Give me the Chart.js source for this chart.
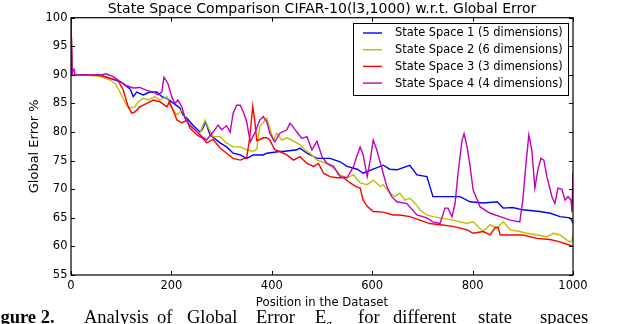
<!DOCTYPE html>
<html>
<head>
<meta charset="utf-8">
<script src="https://cdn.jsdelivr.net/npm/chart.js"></script>
<style>
  html, body { margin: 0; padding: 0; background: #fff; overflow: hidden; }
  #wrap { position: relative; width: 620px; height: 324px; overflow: hidden; }
  #caption span {
    position: absolute; top: 308px; white-space: nowrap;
    font-family: "Liberation Serif", serif; font-size: 18.5px; color: #000; line-height: 1;
  }
  #caption b { font-weight: bold; }
  #caption sub { font-size: 12px; }
</style>
</head>
<body>
<div id="wrap">
  <canvas id="myChart" width="620" height="324"></canvas>
  <div id="caption">
    <span style="left:-16px"><b>Figure 2.</b></span>
    <span style="left:84px">Analysis</span>
    <span style="left:157px">of</span>
    <span style="left:187px">Global</span>
    <span style="left:256px">Error</span>
    <span style="left:315px">E<sub>g</sub></span>
    <span style="left:358px">for</span>
    <span style="left:393px">different</span>
    <span style="left:478px">state</span>
    <span style="left:540px">spaces</span>
  </div>
</div>
<script>
// tick labels
const xTicks = [0, 200, 400, 600, 800, 1000];
const yTicks = [55, 60, 65, 70, 75, 80, 85, 90, 95, 100];

const labels = [
    'State Space 1 (5 dimensions)',
    'State Space 2 (6 dimensions)',
    'State Space 3 (3 dimensions)',
    'State Space 4 (4 dimensions)'
];

// State Space 1 (blue)
const ss1X = [0, 2, 20, 40, 58, 78, 98, 108, 118, 124, 131, 144, 157, 171, 181, 191, 203, 217, 223, 231, 243, 257, 262, 268, 277, 297, 310, 323, 337, 350, 363, 383, 390, 416, 422, 450, 456, 470, 490, 516, 536, 550, 570, 582, 602, 622, 635, 649, 675, 689, 709, 721, 741, 775, 795, 821, 849, 861, 880, 900, 934, 955, 974, 994, 998, 1000];
const ss1Y = [100, 90, 90, 90, 89.9, 89.4, 88.8, 88.2, 87.5, 86.2, 87, 86.5, 87, 87, 86.2, 85.9, 85.1, 84.2, 83, 82.4, 81.2, 80, 80.5, 81.8, 79.5, 78.1, 77.4, 76.3, 76, 75.4, 76, 76, 76.3, 76.6, 76.6, 76.9, 77.2, 76.3, 75.4, 75.4, 74.8, 74, 73.5, 72.8, 73.5, 74.2, 73.5, 73.4, 74.2, 72.5, 72.2, 68.7, 68.7, 68.7, 67.8, 67.6, 67.8, 66.7, 66.8, 66.4, 66.1, 65.8, 65.2, 65, 64.5, 64];

// State Space 2 (yellow)
const ss2X = [0, 2, 20, 40, 58, 78, 88, 95, 104, 111, 118, 127, 134, 144, 154, 167, 177, 191, 197, 203, 211, 221, 231, 243, 257, 267, 275, 283, 297, 310, 323, 337, 350, 363, 370, 376, 383, 390, 396, 403, 410, 420, 430, 443, 456, 466, 476, 490, 510, 523, 536, 550, 563, 576, 590, 602, 616, 622, 635, 645, 655, 665, 675, 685, 695, 709, 721, 741, 761, 775, 789, 801, 821, 835, 849, 861, 875, 894, 908, 928, 948, 961, 974, 988, 994, 998, 1000];
const ss2Y = [100, 90, 90, 89.9, 89.7, 89.1, 88.5, 87.4, 85.9, 84.7, 84.2, 84.4, 85.3, 85.9, 85.6, 86.2, 85.6, 86.2, 84.7, 83.9, 83, 83.9, 81.8, 80.7, 79.8, 82.1, 80.5, 79.2, 79.2, 78.1, 77.4, 77.4, 76.9, 76.6, 77, 81, 81.6, 82.4, 80.7, 78.6, 79.8, 78.6, 79, 78.4, 77.8, 76.9, 76.3, 75.1, 74.5, 73.7, 72.5, 72, 72.5, 71.1, 70.8, 71.6, 70.5, 70.8, 69.3, 68.7, 69.3, 68.1, 68.4, 67.6, 66.4, 65.5, 65.2, 64.9, 64.6, 64.3, 64, 64.3, 62.6, 63.8, 63.2, 64.3, 62.9, 62.6, 62.3, 62, 61.7, 62.3, 62, 61.1, 60.8, 61, 62];

// State Space 3 (red)
const ss3X = [0, 2, 20, 40, 60, 78, 93, 104, 114, 121, 127, 137, 151, 164, 177, 191, 196, 203, 211, 221, 231, 237, 251, 263, 270, 283, 297, 310, 323, 337, 350, 356, 362, 366, 370, 376, 383, 390, 396, 406, 416, 430, 443, 456, 470, 483, 493, 503, 516, 530, 543, 556, 569, 576, 582, 590, 602, 622, 642, 655, 675, 695, 715, 735, 761, 789, 801, 821, 835, 845, 851, 855, 875, 900, 928, 954, 974, 994, 1000];
const ss3Y = [100, 90, 90, 90, 89.9, 89.4, 89.1, 87.4, 84.4, 83.3, 83.5, 84.4, 85, 85.6, 85.3, 84.4, 85.3, 83.9, 82.1, 81.6, 82.1, 80.7, 79.5, 78.9, 78.1, 78.7, 77.2, 76.3, 75.4, 75.1, 75.5, 79, 84.5, 82, 78.5, 78.7, 79, 79, 78.6, 76.9, 76.6, 76, 75.1, 75.7, 74.5, 74, 74.5, 72.8, 72.2, 72, 72, 71.1, 70.4, 70.2, 68.1, 67, 66.1, 66, 65.5, 65.5, 65.2, 64.6, 64, 63.8, 63.5, 62.9, 62.3, 62.6, 62, 63.3, 63.3, 62, 62, 62, 61.4, 61.2, 60.8, 60.2, 60];

// State Space 4 (magenta)
const ss4X = [0, 2, 4, 6, 8, 20, 40, 60, 70, 84, 98, 111, 124, 137, 151, 164, 173, 181, 185, 193, 201, 207, 213, 221, 227, 237, 251, 261, 270, 283, 293, 300, 310, 317, 323, 330, 337, 343, 350, 357, 366, 376, 383, 390, 396, 406, 416, 430, 436, 440, 450, 460, 470, 480, 490, 500, 510, 523, 536, 550, 563, 569, 576, 582, 590, 596, 602, 609, 620, 629, 639, 649, 669, 689, 709, 721, 735, 745, 751, 759, 765, 771, 779, 783, 789, 795, 801, 815, 835, 855, 875, 894, 900, 907, 912, 918, 924, 930, 936, 942, 948, 958, 964, 970, 978, 984, 990, 996, 998, 1000];
const ss4Y = [100, 90, 91, 91, 90, 90, 90, 90, 90.2, 89.7, 88.8, 88.1, 87.7, 87.8, 87.3, 87, 86.5, 87, 89.6, 88.5, 86.1, 85, 85.6, 84.4, 82.4, 81.2, 80, 79.2, 78.6, 80, 81.2, 80.4, 81.1, 80, 83.3, 84.7, 84.7, 83.6, 81.8, 78.3, 79.8, 82.1, 82.7, 81.8, 79.8, 78.3, 79.8, 80.4, 81.5, 81.2, 80, 78.9, 79.2, 76.9, 78.4, 75.7, 74.5, 74, 72.2, 72, 74, 75.7, 77.4, 76, 72.2, 75.1, 78.6, 76.9, 73.4, 70.5, 68.7, 67.8, 67.5, 65.5, 65, 64.3, 64, 66.7, 66.7, 65.2, 67.5, 72.8, 78.6, 79.7, 77.4, 74, 69.9, 66.9, 65.8, 65.2, 64.6, 64.3, 68.1, 75.1, 79.5, 76.9, 70.2, 73.4, 75.4, 75.1, 72.2, 68.7, 67.5, 70.2, 70, 68.1, 68.7, 68.1, 66, 73];

const colors = ['#0000ff', '#bfbf00', '#ff0000', '#bf00bf'];

function pts(xs, ys) {
    return xs.map((x, i) => ({x: x, y: ys[i]}));
}

const FONT = 'DejaVu Sans';

// frame, inward ticks, title and legend like the matplotlib original
const decorPlugin = {
    id: 'decor',
    afterDatasetsDraw(chart) {
        const ctx = chart.ctx;
        const a = chart.chartArea;
        const xs = chart.scales.x, ys = chart.scales.y;
        ctx.save();
        ctx.strokeStyle = '#000';
        ctx.lineWidth = 1;
        ctx.beginPath();
        xTicks.forEach(v => {
            const px = Math.round(xs.getPixelForValue(v)) + 0.5;
            ctx.moveTo(px, a.bottom); ctx.lineTo(px, a.bottom - 4);
            ctx.moveTo(px, a.top); ctx.lineTo(px, a.top + 4);
        });
        yTicks.forEach(v => {
            const py = Math.round(ys.getPixelForValue(v)) + 0.5;
            ctx.moveTo(a.left, py); ctx.lineTo(a.left + 4, py);
            ctx.moveTo(a.right, py); ctx.lineTo(a.right - 4, py);
        });
        ctx.stroke();
        ctx.lineWidth = 1.2;
        ctx.strokeRect(a.left, a.top, a.right - a.left, a.bottom - a.top);

        // title
        ctx.fillStyle = '#000';
        ctx.font = '14px "' + FONT + '"';
        ctx.textAlign = 'center';
        ctx.textBaseline = 'alphabetic';
        ctx.fillText('State Space Comparison CIFAR-10(l3,1000) w.r.t. Global Error', (a.left + a.right) / 2, 13);

        // legend
        const lx = 353.5, ly = 23.5, lw = 215, lh = 72;
        ctx.fillStyle = '#fff';
        ctx.fillRect(lx, ly, lw, lh);
        ctx.lineWidth = 1;
        ctx.strokeRect(lx, ly, lw, lh);
        ctx.font = '11.4px "' + FONT + '"';
        ctx.textAlign = 'left';
        ctx.textBaseline = 'middle';
        chart.data.datasets.forEach((ds, i) => {
            const ry = 33 + i * 16.7;
            ctx.strokeStyle = ds.borderColor;
            ctx.lineWidth = 1.4;
            ctx.beginPath();
            ctx.moveTo(363, ry); ctx.lineTo(382, ry);
            ctx.stroke();
            ctx.fillStyle = '#000';
            ctx.fillText(ds.label, 395, ry + 0.5);
        });
        ctx.restore();
    }
};

const ctx = document.getElementById('myChart').getContext('2d');
const myChart = new Chart(ctx, {
    type: 'line',
    data: {
        datasets: [
            {label: labels[0], data: pts(ss1X, ss1Y), borderColor: colors[0], order: 3},
            {label: labels[1], data: pts(ss2X, ss2Y), borderColor: colors[1], order: 2},
            {label: labels[2], data: pts(ss3X, ss3Y), borderColor: colors[2], order: 1},
            {label: labels[3], data: pts(ss4X, ss4Y), borderColor: colors[3], order: 0}
        ].map(ds => Object.assign(ds, {borderWidth: 1.4, pointRadius: 0, fill: false, tension: 0}))
    },
    options: {
        responsive: false,
        animation: false,
        layout: { padding: { left: 0, right: 47, top: 17.7, bottom: 0 } },
        plugins: {
            legend: { display: false },
            tooltip: { enabled: false },
            title: { display: false }
        },
        scales: {
            x: {
                type: 'linear',
                min: 0,
                max: 1000,
                afterBuildTicks: scale => { scale.ticks = xTicks.map(v => ({value: v})); },
                afterFit: scale => { scale.height = 49; },
                grid: { display: false, drawTicks: false },
                border: { display: false },
                ticks: {
                    color: '#000', font: { family: FONT, size: 11.5 }, padding: 4, maxRotation: 0,
                    callback: v => String(v)
                },
                title: {
                    display: true,
                    text: 'Position in the Dataset',
                    color: '#000',
                    font: { family: FONT, size: 11.7 },
                    padding: { top: 0, bottom: 14.2 }
                }
            },
            y: {
                min: 55,
                max: 100,
                afterBuildTicks: scale => { scale.ticks = yTicks.map(v => ({value: v})); },
                afterFit: scale => { scale.width = 71; },
                grid: { display: false, drawTicks: false },
                border: { display: false },
                ticks: { color: '#000', font: { family: FONT, size: 11.5 }, padding: 3.5, callback: v => String(v) },
                title: {
                    display: true,
                    text: 'Global Error %',
                    color: '#000',
                    font: { family: FONT, size: 13 },
                    padding: { top: 26.5, bottom: 0 }
                }
            }
        }
    },
    plugins: [decorPlugin]
});
</script>
</body>
</html>
